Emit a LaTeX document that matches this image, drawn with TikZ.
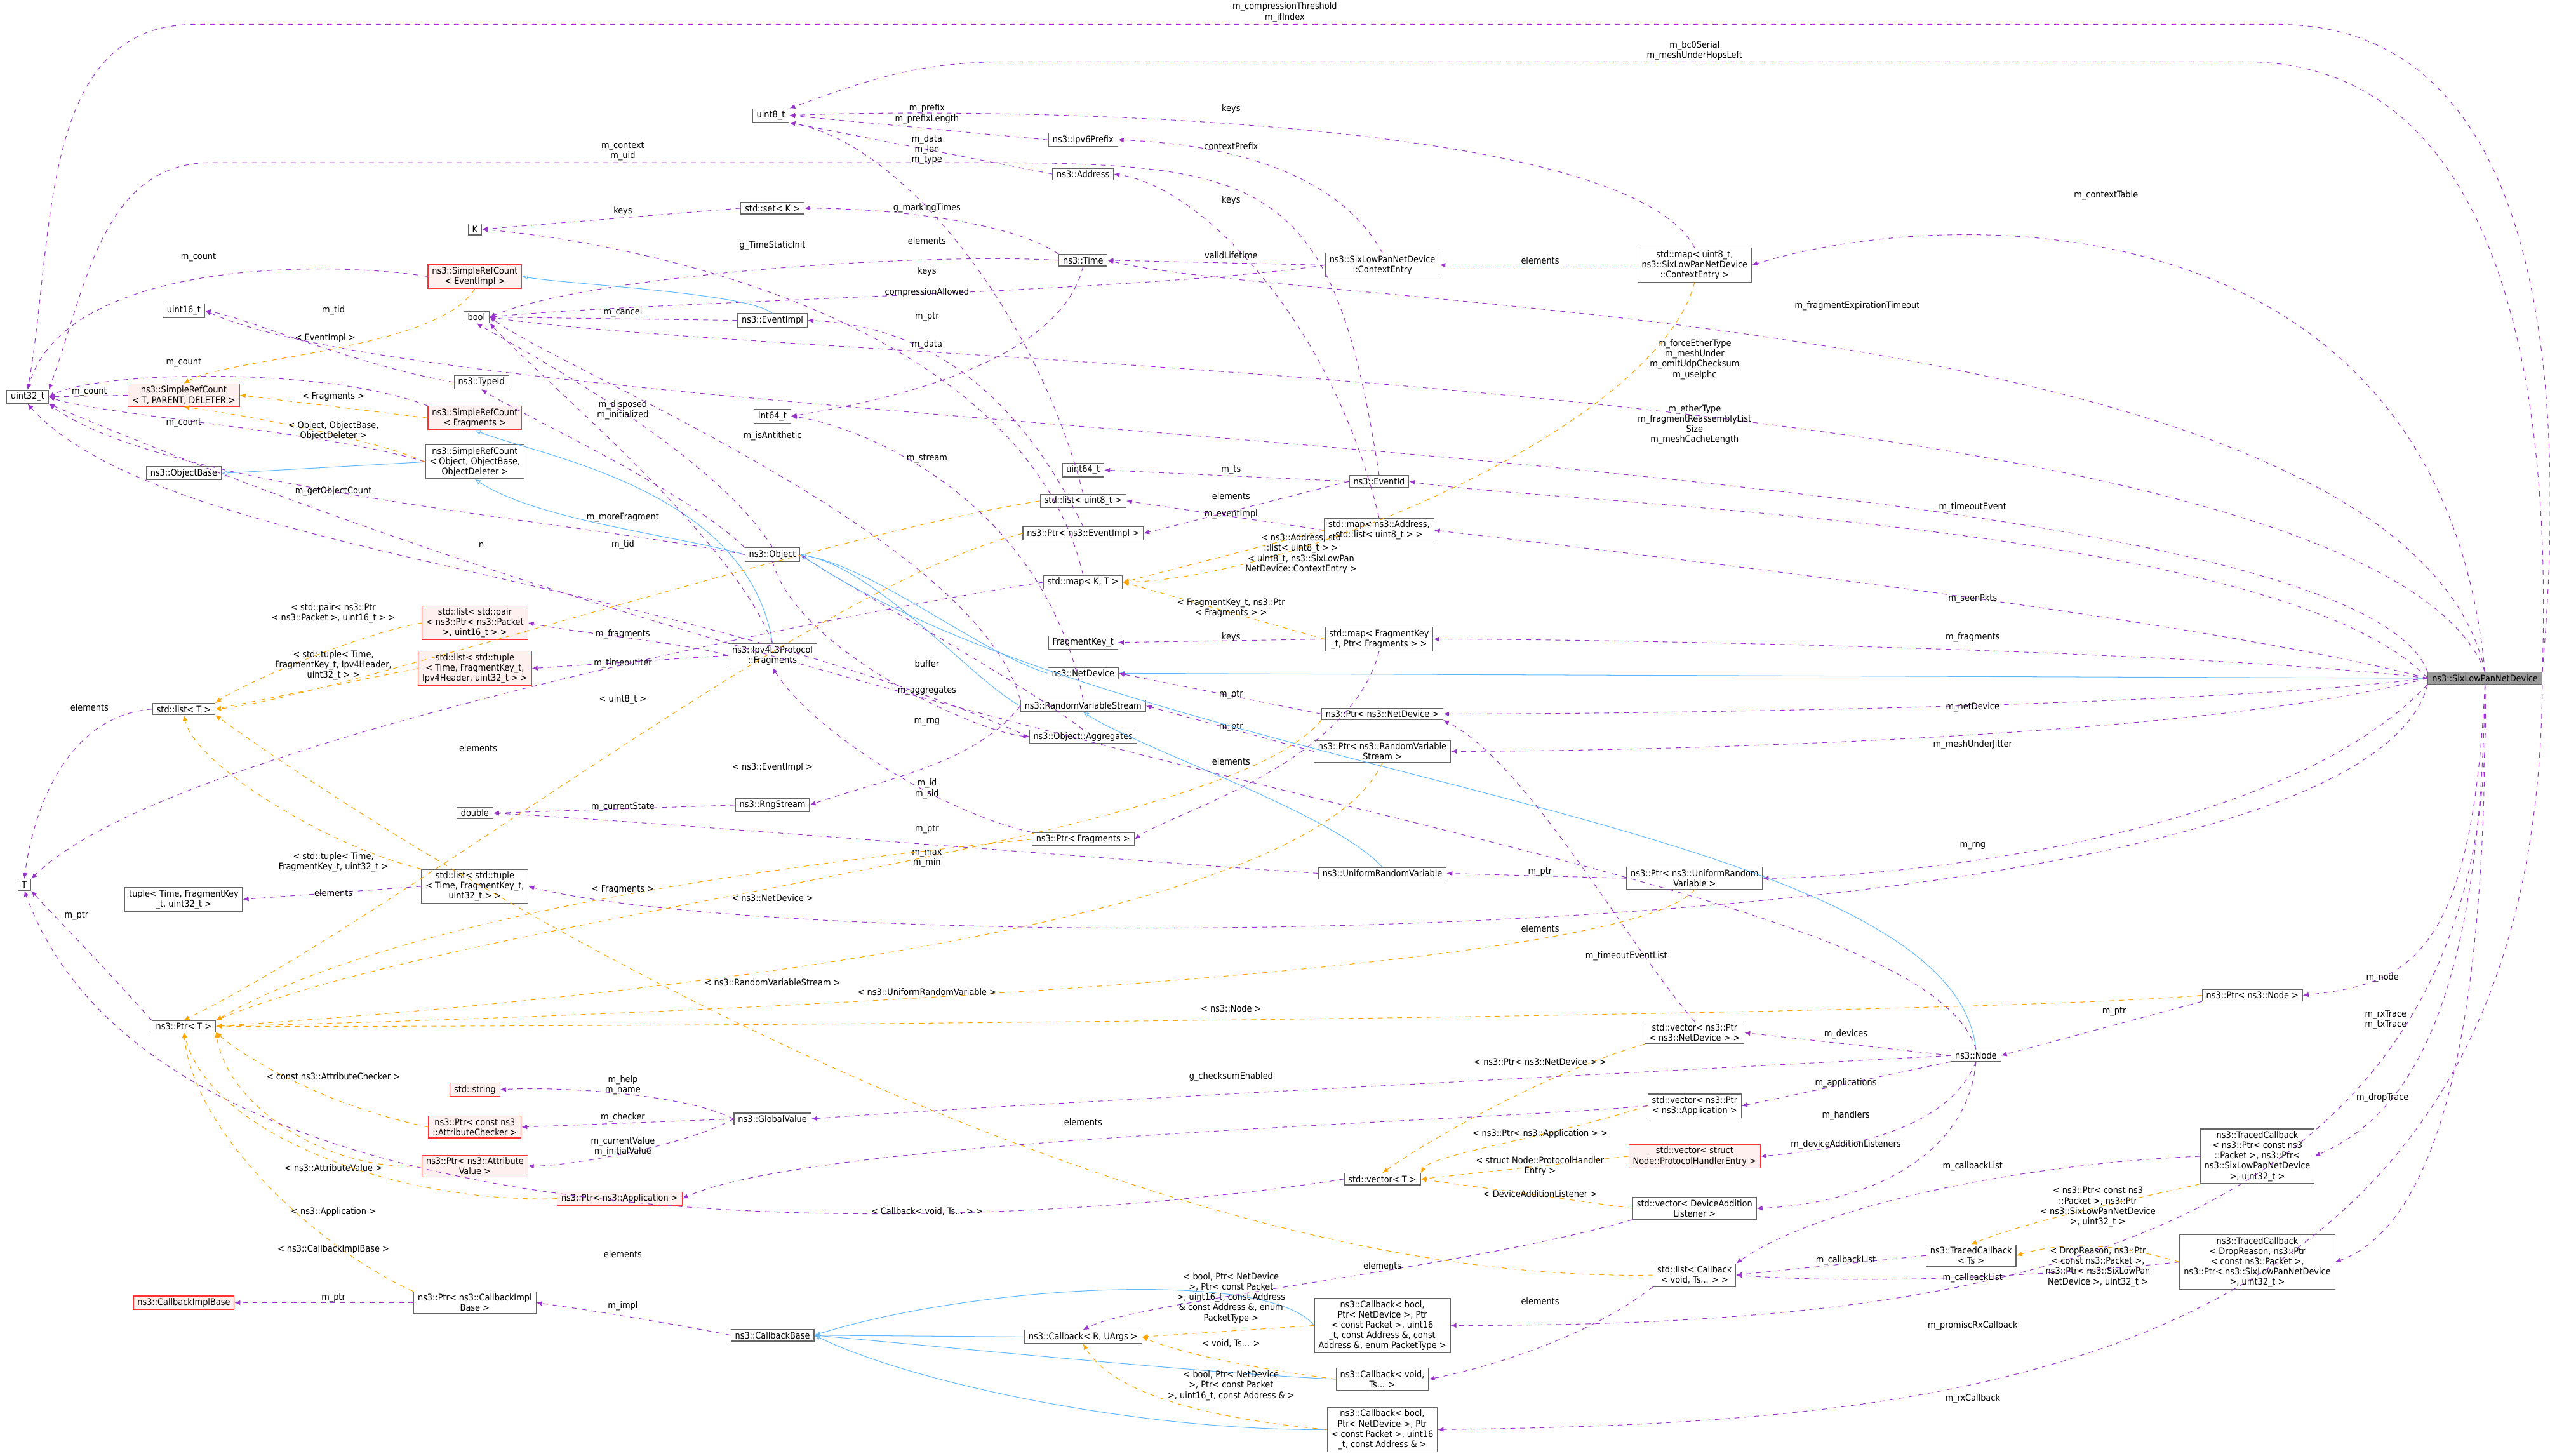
\documentclass[tikz,border=0pt]{standalone}
\usepackage{fontspec}
\setmainfont{DejaVu Sans Condensed}
\usetikzlibrary{arrows.meta}
\definecolor{mp}{HTML}{9A32CD}
\definecolor{og}{HTML}{FFA500}
\definecolor{bl}{HTML}{63B8FF}
\begin{document}
\begin{tikzpicture}[x=1pt,y=-1pt,
 box/.style={draw=black!60,fill=white,font=\fontsize{5.6}{6.3}\selectfont,inner xsep=2.5pt,inner ysep=1.4pt,align=center,line width=0.45pt},
 rbox/.style={box,draw=red!80,fill=red!6},
 lab/.style={font=\fontsize{5.6}{6.3}\selectfont,align=center,inner sep=0.5pt},
 mem/.style={draw=mp,dashed,line width=0.4pt,-{Latex[length=3.5pt,width=3pt]}},
 tpl/.style={draw=og,dashed,line width=0.4pt,-{Latex[length=3.5pt,width=3pt]}},
 inh/.style={draw=bl,line width=0.4pt,-{Latex[length=3.5pt,width=3pt,open]}}]
\useasboundingbox (0,0) rectangle (1568,895);
% nodes
\node[box] (uint32) at (17,244) {uint32\_t};
\node[box] (T) at (15,544) {T};
\node[box] (uint8) at (474,71) {uint8\_t};
\node[box] (K) at (292,141) {K};
\node[box] (set) at (475,128) {std::set< K >};
\node[box] (uint16) at (113,191) {uint16\_t};
\node[box] (bool) at (293,195) {bool};
\node[rbox] (srcev) at (292,170) {ns3::SimpleRefCount\\< EventImpl >};
\node[rbox] (srctpd) at (113,243) {ns3::SimpleRefCount\\< T, PARENT, DELETER >};
\node[box] (typeid) at (296,235) {ns3::TypeId};
\node[rbox] (srcfr) at (292,257) {ns3::SimpleRefCount\\< Fragments >};
\node[box] (objbase) at (113,291) {ns3::ObjectBase};
\node[box] (srcobj) at (292,284) {ns3::SimpleRefCount\\< Object, ObjectBase,\\ ObjectDeleter >};
\node[box] (evimpl) at (475,197) {ns3::EventImpl};
\node[box] (int64) at (475,256) {int64\_t};
\node[box] (ipv6) at (666,86) {ns3::Ipv6Prefix};
\node[box] (addr) at (666,107) {ns3::Address};
\node[box] (time) at (666,160) {ns3::Time};
\node[box] (ctx) at (850,163) {ns3::SixLowPanNetDevice\\::ContextEntry};
\node[box] (mapctx) at (1042,163) {std::map< uint8\_t,\\ ns3::SixLowPanNetDevice\\::ContextEntry >};
\node[box] (uint64) at (666,289) {uint64\_t};
\node[box] (listu8) at (666,308) {std::list< uint8\_t >};
\node[box] (ptrev) at (666,328) {ns3::Ptr< ns3::EventImpl >};
\node[box] (evid) at (848,296) {ns3::EventId};
\node[box] (mapaddr) at (848,326) {std::map< ns3::Address,\\ std::list< uint8\_t > >};
\node[box] (object) at (475,341) {ns3::Object};
\node[box] (mapKT) at (666,358) {std::map< K, T >};
\node[rbox] (listpair) at (292,383) {std::list< std::pair\\< ns3::Ptr< ns3::Packet\\ >, uint16\_t > >};
\node[box] (ipv4fr) at (475,403) {ns3::Ipv4L3Protocol\\::Fragments};
\node[rbox] (listtup4) at (292,411) {std::list< std::tuple\\< Time, FragmentKey\_t,\\ Ipv4Header, uint32\_t > >};
\node[box] (fragkey) at (666,395) {FragmentKey\_t};
\node[box] (mapfr) at (848,393) {std::map< FragmentKey\\\_t, Ptr< Fragments > >};
\node[box] (netdev) at (666,414) {ns3::NetDevice};
\node[box] (listT) at (113,436) {std::list< T >};
\node[box] (rvs) at (666,434) {ns3::RandomVariableStream};
\node[box] (aggr) at (666,453) {ns3::Object::Aggregates};
\node[box] (ptrnd) at (850,439) {ns3::Ptr< ns3::NetDevice >};
\node[box] (ptrrvs) at (850,462) {ns3::Ptr< ns3::RandomVariable\\Stream >};
\node[box] (double) at (292,500) {double};
\node[box] (rng) at (475,495) {ns3::RngStream};
\node[box] (ptrfr) at (666,516) {ns3::Ptr< Fragments >};
\node[box] (listtup) at (292,545) {std::list< std::tuple\\< Time, FragmentKey\_t,\\ uint32\_t > >};
\node[box] (tuple) at (113,553) {tuple< Time, FragmentKey\\\_t, uint32\_t >};
\node[box] (uni) at (850,537) {ns3::UniformRandomVariable};
\node[box] (ptruni) at (1042,540) {ns3::Ptr< ns3::UniformRandom\\Variable >};
\node[box] (ptrT) at (113,631) {ns3::Ptr< T >};
\node[box] (ptrnode) at (1385,612) {ns3::Ptr< ns3::Node >};
\node[box] (vecnd) at (1042,635) {std::vector< ns3::Ptr\\< ns3::NetDevice > >};
\node[box] (node) at (1215,649) {ns3::Node};
\node[rbox] (string) at (292,670) {std::string};
\node[rbox] (ptrchk) at (292,693) {ns3::Ptr< const ns3\\::AttributeChecker >};
\node[box] (gv) at (475,688) {ns3::GlobalValue};
\node[box] (vecapp) at (1042,680) {std::vector< ns3::Ptr\\< ns3::Application >};
\node[rbox] (ptrattr) at (292,717) {ns3::Ptr< ns3::Attribute\\Value >};
\node[rbox] (vecph) at (1042,711) {std::vector< struct\\ Node::ProtocolHandlerEntry >};
\node[rbox] (ptrapp) at (381,737) {ns3::Ptr< ns3::Application >};
\node[box] (vecT) at (850,725) {std::vector< T >};
\node[box] (vecdal) at (1042,743) {std::vector< DeviceAddition\\Listener >};
\node[box] (tc1) at (1388,711) {ns3::TracedCallback\\< ns3::Ptr< const ns3\\::Packet >, ns3::Ptr<\\ ns3::SixLowPanNetDevice\\ >, uint32\_t >};
\node[box] (tcT) at (1212,772) {ns3::TracedCallback\\< Ts >};
\node[box] (listcb) at (1042,784) {std::list< Callback\\< void, Ts... > >};
\node[box] (tc2) at (1388,776) {ns3::TracedCallback\\< DropReason, ns3::Ptr\\< const ns3::Packet >,\\ ns3::Ptr< ns3::SixLowPanNetDevice\\ >, uint32\_t >};
\node[rbox] (cib) at (113,801) {ns3::CallbackImplBase};
\node[box] (ptrcib) at (292,801) {ns3::Ptr< ns3::CallbackImpl\\Base >};
\node[box] (cbb) at (475,821) {ns3::CallbackBase};
\node[box] (cbR) at (666,822) {ns3::Callback< R, UArgs >};
\node[box] (cb1) at (850,815) {ns3::Callback< bool,\\ Ptr< NetDevice >, Ptr\\< const Packet >, uint16\\\_t, const Address \&, const\\ Address \&, enum PacketType >};
\node[box] (cb2) at (850,848) {ns3::Callback< void,\\ Ts... >};
\node[box] (cb3) at (850,879) {ns3::Callback< bool,\\ Ptr< NetDevice >, Ptr\\< const Packet >, uint16\\\_t, const Address \& >};
\node[box,fill=black!40] (six) at (1528,417) {ns3::SixLowPanNetDevice};

% edges from six
\draw[mem] (six.north east) to[out=85,in=0] (1400,15) -- (120,15) to[out=180,in=80] (uint32.north);
\node[lab] at (790,7.5) {m\_compressionThreshold\\m\_ifIndex};
\draw[mem] (six.north east) to[out=88,in=0] (1380,38) -- (620,38) to[out=180,in=20] (uint8.north east);
\node[lab] at (1042,31) {m\_bc0Serial\\m\_meshUnderHopsLeft};
\draw[mem] (six.north) .. controls (1500,120) and (1200,125) .. (mapctx.east);
\node[lab] at (1295,120) {m\_contextTable};
\draw[mem] (six.north) .. controls (1480,190) and (800,190) .. (time.east);
\node[lab] at (1142,188) {m\_fragmentExpirationTimeout};
\draw[mem] (six.north) .. controls (1460,230) and (500,225) .. (bool.east);
\node[lab] at (1042,221) {m\_forceEtherType\\m\_meshUnder\\m\_omitUdpChecksum\\m\_useIphc};
\draw[mem] (six.north west) .. controls (1440,270) and (300,270) .. (uint16.east);
\node[lab] at (1042,261) {m\_etherType\\m\_fragmentReassemblyList\\Size\\m\_meshCacheLength};
\draw[mem] (six.west) .. controls (1400,320) and (950,310) .. (evid.east);
\node[lab] at (1213,312) {m\_timeoutEvent};
\draw[mem] (six.west) .. controls (1350,380) and (1000,340) .. (mapaddr.east);
\node[lab] at (1213,368) {m\_seenPkts};
\draw[mem] (six.west) .. controls (1350,400) and (1000,393) .. (mapfr.east);
\node[lab] at (1213,392) {m\_fragments};
\draw[inh] (six.west) -- (netdev.east);
\draw[mem] (six.west) .. controls (1350,435) and (1000,439) .. (ptrnd.east);
\node[lab] at (1213,435) {m\_netDevice};
\draw[mem] (six.west) .. controls (1350,455) and (1000,462) .. (ptrrvs.east);
\node[lab] at (1213,458) {m\_meshUnderJitter};
\draw[mem] (six.south west) .. controls (1400,520) and (1150,540) .. (ptruni.east);
\node[lab] at (1213,520) {m\_rng};
\draw[mem] (six.south west) .. controls (1450,590) and (500,590) .. (listtup.east);
\node[lab] at (1000,588) {m\_timeoutEventList};
\draw[mem] (six.south) .. controls (1520,590) and (1480,605) .. (ptrnode.east);
\node[lab] at (1465,601) {m\_node};
\draw[mem] (six.south) .. controls (1525,640) and (1470,690) .. (tc1.east);
\node[lab] at (1467,627) {m\_rxTrace\\m\_txTrace};
\draw[mem] (six.south) .. controls (1530,690) and (1480,760) .. (tc2.east);
\node[lab] at (1465,675) {m\_dropTrace};
\draw[mem] (six.south) .. controls (1540,780) and (1200,815) .. (cb1.east);
\node[lab] at (1213,815) {m\_promiscRxCallback};
\draw[mem] (six.south east) .. controls (1560,850) and (1200,875) .. (cb3.east);
\node[lab] at (1213,860) {m\_rxCallback};

% top region
\draw[mem] (ipv6.west) -- (uint8.east); \node[lab] at (570,70) {m\_prefix\\m\_prefixLength};
\draw[mem] (addr.west) -- (uint8.south east); \node[lab] at (570,92) {m\_data\\m\_len\\m\_type};
\draw[mem] (mapctx.north) .. controls (1000,70) and (600,66) .. (uint8.east); \node[lab] at (757,67) {keys};
\draw[mem] (ctx.north) .. controls (820,100) and (740,88) .. (ipv6.east); \node[lab] at (757,90) {contextPrefix};
\draw[mem] (mapaddr.north) .. controls (820,200) and (740,115) .. (addr.east); \node[lab] at (757,123) {keys};
\draw[mem] (ctx.west) -- (time.east); \node[lab] at (757,157) {validLifetime};
\draw[mem] (ctx.west) .. controls (700,180) and (400,185) .. (bool.east); \node[lab] at (570,180) {compressionAllowed};
\draw[mem] (mapctx.west) -- (ctx.east); \node[lab] at (947,160) {elements};
\draw[mem] (evid.north) .. controls (820,110) and (780,100) .. (600,100) -- (130,100) to[out=180,in=70] (uint32.north east); \node[lab] at (383,93) {m\_context\\m\_uid};
\draw[mem] (set.west) -- (K.east); \node[lab] at (383,130) {keys};
\draw[mem] (time.north west) .. controls (620,135) and (540,128) .. (set.east); \node[lab] at (570,128) {g\_markingTimes};
\draw[mem] (time.west) .. controls (560,155) and (360,170) .. (bool.east); \node[lab] at (475,151) {g\_TimeStaticInit};
\draw[mem] (time.south) .. controls (650,230) and (520,250) .. (int64.east); \node[lab] at (570,212) {m\_data};
\draw[mem] (listu8.north) .. controls (640,200) and (560,90) .. (uint8.south east); \node[lab] at (570,148) {elements};
\draw[mem] (mapKT.north) .. controls (630,200) and (400,150) .. (K.east); \node[lab] at (570,167) {keys};

% refcount area
\draw[mem] (srcev.west) .. controls (200,160) and (40,160) .. (uint32.north); \node[lab] at (122,158) {m\_count};
\draw[tpl] (srcev.south) .. controls (270,215) and (140,220) .. (srctpd.north); \node[lab] at (200,208) {< EventImpl >};
\draw[inh] (evimpl.north) .. controls (460,180) and (350,175) .. (srcev.east);
\draw[mem] (evimpl.west) -- (bool.east); \node[lab] at (383,192) {m\_cancel};
\draw[mem] (typeid.west) .. controls (220,225) and (150,195) .. (uint16.east); \node[lab] at (205,191) {m\_tid};
\draw[mem] (srctpd.west) -- (uint32.east); \node[lab] at (55,241) {m\_count};
\draw[mem] (srcfr.north west) .. controls (200,225) and (60,228) .. (uint32.east); \node[lab] at (113,223) {m\_count};
\draw[tpl] (srcfr.west) -- (srctpd.east); \node[lab] at (205,244) {< Fragments >};
\draw[mem] (srcobj.west) .. controls (200,265) and (60,255) .. (uint32.east); \node[lab] at (113,260) {m\_count};
\draw[tpl] (srcobj.west) .. controls (230,270) and (150,255) .. (srctpd.south); \node[lab] at (205,265) {< Object, ObjectBase,\\ObjectDeleter >};
\draw[inh] (srcobj.west) -- (objbase.east);
\draw[inh] (object.west) .. controls (420,330) and (330,320) .. (srcobj.south);
\draw[mem] (object.north west) .. controls (420,300) and (320,255) .. (typeid.south); \node[lab] at (383,335) {m\_tid};
\draw[mem] (object.north) .. controls (440,280) and (330,220) .. (bool.south); \node[lab] at (383,252) {m\_disposed\\m\_initialized};
\draw[mem] (object.west) .. controls (350,320) and (100,300) .. (uint32.south east); \node[lab] at (205,302) {m\_getObjectCount};
\draw[inh] (ipv4fr.north) .. controls (460,300) and (330,280) .. (srcfr.south);
\draw[mem] (ipv4fr.north) .. controls (450,330) and (340,240) .. (bool.south east); \node[lab] at (383,318) {m\_moreFragment};
\draw[mem] (ipv4fr.west) .. controls (420,395) and (360,390) .. (listpair.east); \node[lab] at (383,390) {m\_fragments};
\draw[mem] (ipv4fr.west) -- (listtup4.east); \node[lab] at (383,408) {m\_timeoutIter};
\draw[mem] (ptrev.north) .. controls (620,230) and (560,200) .. (evimpl.east); \node[lab] at (570,195) {m\_ptr};
\draw[mem] (evid.west) -- (ptrev.east); \node[lab] at (757,316) {m\_eventImpl};
\draw[mem] (evid.west) -- (uint64.east); \node[lab] at (757,289) {m\_ts};
\draw[mem] (mapaddr.west) -- (listu8.east); \node[lab] at (757,305) {elements};
\draw[tpl] (listu8.west) .. controls (500,330) and (200,430) .. (listT.east); \node[lab] at (383,430) {< uint8\_t >};
\draw[tpl] (mapaddr.west) -- (mapKT.east); \node[lab] at (800,334) {< ns3::Address, std\\::list< uint8\_t > >};
\draw[tpl] (mapctx.south) .. controls (1020,260) and (800,355) .. (mapKT.east); \node[lab] at (800,347) {< uint8\_t, ns3::SixLowPan\\NetDevice::ContextEntry >};
\draw[tpl] (mapfr.west) -- (mapKT.east); \node[lab] at (757,374) {< FragmentKey\_t, ns3::Ptr\\< Fragments > >};
\draw[mem] (mapfr.west) -- (fragkey.east); \node[lab] at (757,392) {keys};
\draw[mem] (mapfr.south) .. controls (830,470) and (720,500) .. (ptrfr.east); \node[lab] at (757,468) {elements};
\draw[mem] (mapKT.west) .. controls (500,380) and (100,460) .. (T.north east); \node[lab] at (294,460) {elements};
\draw[inh] (netdev.west) .. controls (600,400) and (540,350) .. (object.east);
\draw[inh] (rvs.west) .. controls (600,420) and (540,350) .. (object.east);
\draw[mem] (rvs.west) .. controls (600,470) and (540,480) .. (rng.east); \node[lab] at (570,444) {m\_rng};
\draw[inh] (uni.north) .. controls (820,500) and (700,460) .. (rvs.south);
\draw[mem] (uni.west) .. controls (700,530) and (400,505) .. (double.east); \node[lab] at (570,528) {m\_max\\m\_min};
\draw[mem] (rng.west) -- (double.east); \node[lab] at (383,496) {m\_currentState};
\draw[mem] (rvs.north) .. controls (640,300) and (520,260) .. (int64.east); \node[lab] at (570,282) {m\_stream};
\draw[mem] (rvs.north west) .. controls (600,330) and (350,230) .. (bool.east); \node[lab] at (475,268) {m\_isAntithetic};
\draw[mem] (aggr.west) .. controls (400,350) and (100,340) .. (uint32.south); \node[lab] at (296,335) {n};
\draw[mem] (object.south) .. controls (490,400) and (600,450) .. (aggr.west); \node[lab] at (570,425) {m\_aggregates};
\draw[mem] (aggr.north) .. controls (630,420) and (520,360) .. (object.east); \node[lab] at (570,408) {buffer};
\draw[mem] (ptrnd.west) -- (netdev.east); \node[lab] at (757,427) {m\_ptr};
\draw[mem] (ptrrvs.west) -- (rvs.east); \node[lab] at (757,447) {m\_ptr};
\draw[mem] (ptruni.west) -- (uni.east); \node[lab] at (947,536) {m\_ptr};
\draw[mem] (ptrfr.north west) .. controls (580,500) and (500,450) .. (ipv4fr.south); \node[lab] at (570,510) {m\_ptr};
\draw[tpl] (ptrnd.south west) .. controls (750,520) and (300,560) .. (ptrT.north east); \node[lab] at (475,552) {< ns3::NetDevice >};
\draw[tpl] (ptrrvs.south) .. controls (800,580) and (300,620) .. (ptrT.east); \node[lab] at (475,604) {< ns3::RandomVariableStream >};
\draw[tpl] (ptruni.south) .. controls (1000,600) and (400,625) .. (ptrT.east); \node[lab] at (570,610) {< ns3::UniformRandomVariable >};
\draw[tpl] (ptrfr.west) .. controls (500,530) and (250,560) .. (ptrT.north east); \node[lab] at (383,547) {< Fragments >};
\draw[tpl] (ptrev.west) .. controls (500,360) and (250,560) .. (ptrT.north); \node[lab] at (475,472) {< ns3::EventImpl >};
\draw[tpl] (ptrnode.west) .. controls (1200,625) and (400,632) .. (ptrT.east); \node[lab] at (757,620) {< ns3::Node >};
\draw[mem] (ptrT.north west) .. controls (60,590) and (30,560) .. (T.south east); \node[lab] at (47,563) {m\_ptr};
\draw[mem] (listT.west) .. controls (40,440) and (20,500) .. (T.north); \node[lab] at (55,435) {elements};
\draw[tpl] (listpair.west) .. controls (220,390) and (150,420) .. (listT.north east); \node[lab] at (205,377) {< std::pair< ns3::Ptr\\< ns3::Packet >, uint16\_t > >};
\draw[tpl] (listtup4.west) -- (listT.east); \node[lab] at (205,409) {< std::tuple< Time,\\FragmentKey\_t, Ipv4Header,\\uint32\_t > >};
\draw[tpl] (listtup.north west) .. controls (200,520) and (120,470) .. (listT.south); \node[lab] at (205,530) {< std::tuple< Time,\\FragmentKey\_t, uint32\_t >};
\draw[mem] (listtup.west) -- (tuple.east); \node[lab] at (205,549) {elements};

% node area
\draw[inh] (node.north) .. controls (1200,500) and (700,480) .. (object.east);
\draw[mem] (node.west) -- (vecnd.east); \node[lab] at (1135,636) {m\_devices};
\draw[mem] (node.south west) -- (vecapp.east); \node[lab] at (1135,666) {m\_applications};
\draw[mem] (node.south) .. controls (1200,690) and (1150,705) .. (vecph.east); \node[lab] at (1135,686) {m\_handlers};
\draw[mem] (node.south) .. controls (1210,710) and (1150,740) .. (vecdal.east); \node[lab] at (1135,704) {m\_deviceAdditionListeners};
\draw[mem] (node.north) .. controls (1180,530) and (600,490) .. (uint32.south east); \node[lab] at (570,485) {m\_id\\m\_sid};
\draw[mem] (ptrnode.south west) -- (node.east); \node[lab] at (1300,622) {m\_ptr};
\draw[mem] (node.west) .. controls (1000,660) and (600,680) .. (gv.east); \node[lab] at (757,662) {g\_checksumEnabled};
\draw[mem] (vecnd.north) .. controls (1000,580) and (940,470) .. (ptrnd.south east); \node[lab] at (947,571) {elements};
\draw[tpl] (vecnd.south west) .. controls (950,660) and (880,700) .. (vecT.north); \node[lab] at (947,653) {< ns3::Ptr< ns3::NetDevice > >};
\draw[tpl] (vecapp.west) .. controls (950,700) and (880,710) .. (vecT.north east); \node[lab] at (947,697) {< ns3::Ptr< ns3::Application > >};
\draw[tpl] (vecph.west) -- (vecT.east); \node[lab] at (947,717) {< struct Node::ProtocolHandler\\Entry >};
\draw[tpl] (vecdal.west) -- (vecT.east); \node[lab] at (947,734) {< DeviceAdditionListener >};
\draw[mem] (vecapp.west) .. controls (900,690) and (500,700) .. (ptrapp.east); \node[lab] at (666,690) {elements};
\draw[mem] (vecT.west) .. controls (600,760) and (100,780) .. (T.south); \node[lab] at (383,771) {elements};
\draw[mem] (vecdal.south west) .. controls (900,780) and (700,800) .. (cbR.north); \node[lab] at (850,778) {elements};
\draw[mem] (gv.west) .. controls (420,672) and (340,668) .. (string.east); \node[lab] at (383,667) {m\_help\\m\_name};
\draw[mem] (gv.west) -- (ptrchk.east); \node[lab] at (383,687) {m\_checker};
\draw[mem] (gv.west) .. controls (420,705) and (350,717) .. (ptrattr.east); \node[lab] at (383,705) {m\_currentValue\\m\_initialValue};
\draw[tpl] (ptrchk.west) .. controls (200,680) and (150,650) .. (ptrT.south east); \node[lab] at (205,662) {< const ns3::AttributeChecker >};
\draw[tpl] (ptrattr.west) .. controls (200,720) and (140,680) .. (ptrT.south east); \node[lab] at (205,718) {< ns3::AttributeValue >};
\draw[tpl] (ptrapp.west) .. controls (250,740) and (130,700) .. (ptrT.south); \node[lab] at (205,745) {< ns3::Application >};
\draw[tpl] (ptrcib.north west) .. controls (200,770) and (120,700) .. (ptrT.south); \node[lab] at (205,768) {< ns3::CallbackImplBase >};
\draw[mem] (ptrcib.west) -- (cib.east); \node[lab] at (205,798) {m\_ptr};
\draw[mem] (cbb.west) .. controls (420,815) and (360,805) .. (ptrcib.east); \node[lab] at (383,803) {m\_impl};

% callbacks
\draw[inh] (cbR.west) -- (cbb.east);
\draw[inh] (cb1.west) .. controls (780,780) and (600,790) .. (cbb.east);
\draw[inh] (cb2.west) .. controls (750,845) and (600,830) .. (cbb.east);
\draw[inh] (cb3.west) .. controls (700,880) and (560,850) .. (cbb.east);
\draw[tpl] (cb1.west) -- (cbR.east); \node[lab] at (757,798) {< bool, Ptr< NetDevice\\>, Ptr< const Packet\\>, uint16\_t, const Address\\\& const Address \&, enum\\PacketType >};
\draw[tpl] (cb2.west) .. controls (760,840) and (720,830) .. (cbR.east); \node[lab] at (757,826) {< void, Ts... >};
\draw[tpl] (cb3.west) .. controls (720,870) and (680,850) .. (cbR.south); \node[lab] at (757,852) {< bool, Ptr< NetDevice\\>, Ptr< const Packet\\>, uint16\_t, const Address \& >};
\draw[mem] (listcb.south west) .. controls (980,820) and (920,840) .. (cb2.east); \node[lab] at (947,800) {elements};
\draw[tpl] (listcb.west) .. controls (700,790) and (300,560) .. (listT.south east); \node[lab] at (570,745) {< Callback< void, Ts... > >};
\draw[mem] (tcT.west) -- (listcb.east); \node[lab] at (1135,775) {m\_callbackList};
\draw[mem] (tc1.west) .. controls (1250,715) and (1120,740) .. (listcb.north east); \node[lab] at (1213,717) {m\_callbackList};
\draw[mem] (tc2.west) .. controls (1250,785) and (1150,790) .. (listcb.east); \node[lab] at (1213,786) {m\_callbackList};
\draw[tpl] (tc1.south west) .. controls (1300,740) and (1250,750) .. (tcT.north); \node[lab] at (1290,742) {< ns3::Ptr< const ns3\\::Packet >, ns3::Ptr\\< ns3::SixLowPanNetDevice\\>, uint32\_t >};
\draw[tpl] (tc2.west) .. controls (1320,770) and (1280,760) .. (tcT.east); \node[lab] at (1290,779) {< DropReason, ns3::Ptr\\< const ns3::Packet >,\\ns3::Ptr< ns3::SixLowPan\\NetDevice >, uint32\_t >};
\end{tikzpicture}
\end{document}
